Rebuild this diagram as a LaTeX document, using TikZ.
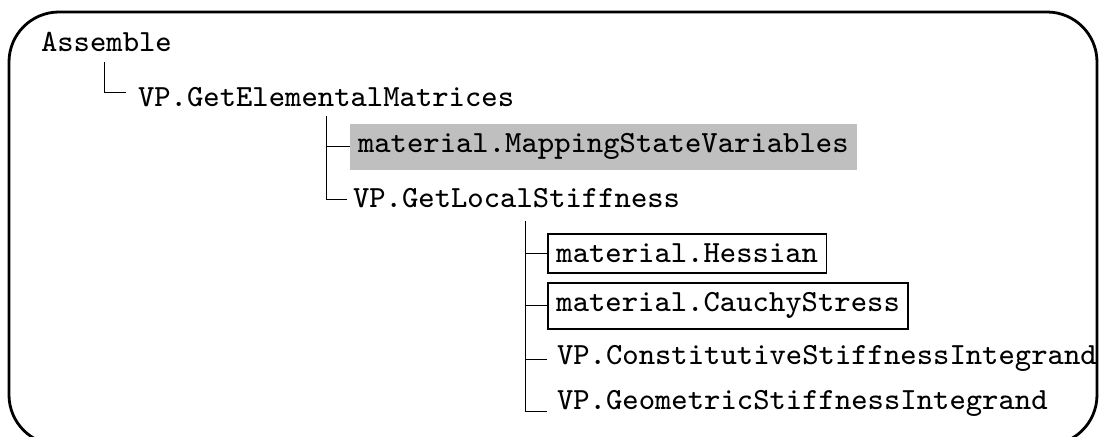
\documentclass[tikz,border=0pt]{standalone}
\usepackage{fontspec}
\newfontfamily\codefont{lmmono8-regular.otf}
\begin{document}
\begin{tikzpicture}[x=0.5pt,y=-0.5pt,
  every node/.style={font=\codefont\fontsize{15.4pt}{18pt}\selectfont, outer sep=0pt},
  leaf/.style={inner xsep=0pt, inner ysep=0pt, anchor=base west},
  graybox/.style={fill=black!25, inner xsep=4pt, inner ysep=5pt, anchor=base west},
  framebox/.style={draw=black, line width=0.8pt, inner xsep=4.2pt, inner ysep=5pt, anchor=base west},
  tree/.style={draw=black, line width=0.5pt},
  frame/.style={draw=black, line width=1.4pt, rounded corners=25pt}]
\useasboundingbox (0,0) rectangle (1108,437);
\clip (0,0) rectangle (1108,437);
\draw[frame] (9,12) rectangle (1097,445);

% nodes
\node[leaf] (asm) at (41,52) {Assemble};
\node[leaf] (gem) at (138,107) {VP.GetElementalMatrices};
\node[graybox] (map) at (350,153) {material.MappingStateVariables};
\node[leaf] (gls) at (353,208) {VP.GetLocalStiffness};
\node[framebox] (hes) at (548,263) {material.Hessian};
\node[framebox] (cau) at (548,312) {material.CauchyStress};
\node[leaf] (con) at (557,365) {VP.ConstitutiveStiffnessIntegrand};
\node[leaf] (geo) at (557,410) {VP.GeometricStiffnessIntegrand};

% tree connectors
\coordinate (t1) at (104,62);
\coordinate (e1) at (126,93);
\draw[tree] (t1) |- (e1);

\coordinate (t2) at (326,116);
\coordinate (e2) at (347,200);
\draw[tree] (t2) |- (e2);
\draw[tree] (t2 |- map.west) -- (map.west);

\coordinate (t3) at (525,221);
\coordinate (e3) at (547,412);
\coordinate (e4) at (547,360);
\draw[tree] (t3) |- (e3);
\draw[tree] (t3 |- hes.west) -- (hes.west);
\draw[tree] (t3 |- cau.west) -- (cau.west);
\draw[tree] (t3 |- e4) -- (e4);
\end{tikzpicture}
\end{document}
